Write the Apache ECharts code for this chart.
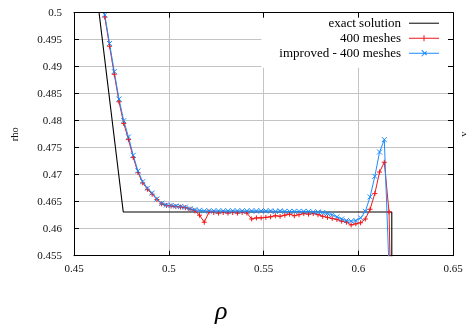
<!DOCTYPE html>
<html>
<head>
<meta charset="utf-8">
<script src="https://cdn.jsdelivr.net/npm/echarts@6/dist/echarts.min.js"></script>
<style>html,body{margin:0;padding:0;background:#fff;}#c{width:466px;height:325px;}</style>
</head>
<body>
<div id="c"></div>
<script>
var xTicks = [0.45, 0.5, 0.55, 0.6, 0.65];
var yTicks = [0.455, 0.46, 0.465, 0.47, 0.475, 0.48, 0.485, 0.49, 0.495, 0.5];

var xs = [.46375,.46625,.46875,.47125,.47375,.47625,.47875,.48125,.48375,.48625,
.48875,.49125,.49375,.49625,.49875,.50125,.50375,.50625,.50875,.51125,
.51375,.51625,.51875,.52125,.52375,.52625,.52875,.53125,.53375,.53625,
.53875,.54125,.54375,.54625,.54875,.55125,.55375,.55625,.55875,.56125,
.56375,.56625,.56875,.57125,.57375,.57625,.57875,.58125,.58375,.58625,
.58875,.59125,.59375,.59625,.59875,.60125,.60375,.60625,.60875,.61125,
.61375,.61625,.61875];

var improved = [.5045,.4996,.4943,.4891,.4840,.4800,.4770,.4736,.4707,.4687,
.4675,.4666,.4655,.4647,.4644,.4643,.4642,.4641,.4640,.4637,
.4635,.4634,.4633,.4633,.4633,.4633,.4633,.4633,.4633,.4633,
.4633,.4633,.4633,.4633,.4633,.4633,.4633,.4632,.4633,.4632,
.4632,.4632,.4632,.4632,.4632,.4631,.4631,.4630,.4628,.4626,
.4622,.4618,.4615,.4614,.4615,.4620,.4632,.4659,.4697,.4742,
.4765,.4525,.4200];

var meshes400 = [.5050,.4992,.4938,.4886,.4835,.4795,.4765,.4732,.4704,.4685,
.4673,.4664,.4654,.4646,.4643,.4642,.4641,.4640,.4639,.4636,
.4633,.4625,.4612,.4631,.4630,.4629,.4630,.4629,.4630,.4629,
.4630,.4629,.4618,.4620,.4620,.4621,.4622,.4624,.4623,.4625,
.4627,.4624,.4626,.4628,.4627,.4628,.4626,.4623,.4621,.4619,
.4617,.4614,.4612,.4607,.4609,.4611,.4618,.4636,.4665,.4705,
.4723,.4631,.4200];

var exactX = [.4615, .476, .6177, .6177];
var exactY = [.505, .4631, .4631, .40];

function pairs(a, b) { return a.map(function (v, i) { return [v, b[i]]; }); }

var FONT = '"Liberation Serif","DejaVu Serif",serif';
var chart = echarts.init(document.getElementById('c'), null, {renderer: 'canvas'});
var plusPath = 'path://M0,5L10,5M5,0L5,10';
var crossPath = 'path://M0,0L10,10M0,10L10,0';

var iconLine = 'path://M0,5.5h30v1h-30z';
var iconPlus = 'path://M0,5.5h30v1h-30zM14.5,3h1v6h-1z';
var iconCross = 'path://M0,5.5h30v1h-30zM12.3,3.3l0.7,-0.7l5,5l-0.7,0.7zM12.3,8.7l5,-5l0.7,0.7l-5,5z';
var noBorder = {borderWidth: 0};

chart.setOption({
  animation: false,
  backgroundColor: '#fff',
  grid: {left: 74, right: 13, top: 12.7, bottom: 69.3, containLabel: false, outerBoundsMode: 'none'},
  legend: {
    right: 13, top: 12.7, orient: 'vertical', align: 'right',
    backgroundColor: '#fff', padding: [4, 14, 8, 18],
    itemWidth: 30, itemHeight: 12, itemGap: 2,
    selectedMode: false,
    textStyle: {fontFamily: FONT, fontSize: 13, lineHeight: 12, color: '#000', padding: [0, 3, 0, 0]},
    data: [
      {name: 'exact solution', icon: iconLine, itemStyle: noBorder},
      {name: '400 meshes', icon: iconPlus, itemStyle: noBorder},
      {name: 'improved - 400 meshes', icon: iconCross, itemStyle: noBorder}
    ]
  },
  xAxis: [{
    type: 'value', min: xTicks[0], max: xTicks[xTicks.length - 1], interval: 0.05,
    axisLine: {show: true, onZero: false, lineStyle: {color: '#000', width: 1}},
    axisTick: {show: true, inside: true, length: 5, lineStyle: {color: '#000'}},
    axisLabel: {fontFamily: FONT, fontSize: 11, color: '#111', margin: 8},
    splitLine: {show: true, lineStyle: {color: '#c4c4c4', width: 1}}
  }, {
    type: 'value', position: 'top', min: xTicks[0], max: xTicks[xTicks.length - 1], interval: 0.05,
    z: 5,
    axisLine: {show: true, onZero: false, lineStyle: {color: '#000', width: 1}},
    axisTick: {show: true, inside: true, length: 5, lineStyle: {color: '#000'}},
    axisLabel: {show: false}, splitLine: {show: false}
  }],
  yAxis: [{
    type: 'value', min: yTicks[0], max: yTicks[yTicks.length - 1], interval: 0.005,
    name: 'rho', nameLocation: 'middle', nameGap: 53, nameRotate: 90,
    nameTextStyle: {fontFamily: FONT, fontSize: 10.5, color: '#111'},
    axisLine: {show: true, onZero: false, lineStyle: {color: '#000', width: 1}},
    axisTick: {show: true, inside: true, length: 5, lineStyle: {color: '#000'}},
    axisLabel: {fontFamily: FONT, fontSize: 11, color: '#111', margin: 12},
    splitLine: {show: true, lineStyle: {color: '#c4c4c4', width: 1}}
  }, {
    type: 'value', position: 'right', min: yTicks[0], max: yTicks[yTicks.length - 1], interval: 0.005,
    z: 5,
    name: 'v', nameLocation: 'middle', nameGap: 6, nameRotate: 90,
    nameTextStyle: {fontFamily: FONT, fontSize: 10.5, color: '#111'},
    axisLine: {show: true, onZero: false, lineStyle: {color: '#000', width: 1}},
    axisTick: {show: true, inside: true, length: 5, lineStyle: {color: '#000'}},
    axisLabel: {show: false}, splitLine: {show: false}
  }],
  graphic: [{
    type: 'text', left: 215, top: 299,
    style: {text: 'ρ', font: 'italic 26px ' + FONT, fill: '#000'}
  }],
  series: [{
    name: 'exact solution', type: 'line', data: pairs(exactX, exactY),
    symbol: 'none', clip: true,
    lineStyle: {color: '#000', width: 1.1}, itemStyle: {color: '#000'}
  }, {
    name: '400 meshes', type: 'line', data: pairs(xs, meshes400),
    symbol: plusPath, symbolSize: 5, showAllSymbol: true, clip: true,
    lineStyle: {color: '#f01818', width: 1},
    itemStyle: {color: '#f01818', borderColor: '#f01818', borderWidth: 1}
  }, {
    name: 'improved - 400 meshes', type: 'line', data: pairs(xs, improved),
    symbol: crossPath, symbolSize: 5, showAllSymbol: true, clip: true,
    lineStyle: {color: '#1a8cff', width: 1},
    itemStyle: {color: '#1a8cff', borderColor: '#1a8cff', borderWidth: 1}
  }]
});
</script>
</body>
</html>
